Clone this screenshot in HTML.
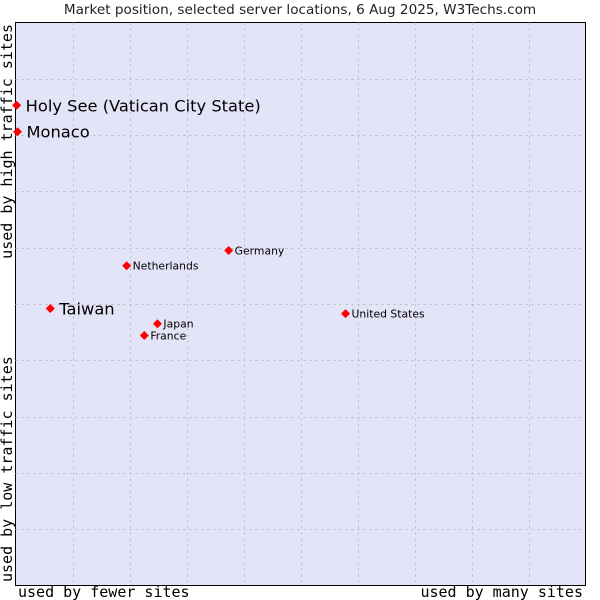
<!DOCTYPE html>
<html><head><meta charset="utf-8"><style>
html,body{margin:0;padding:0;background:#fff;width:600px;height:600px;overflow:hidden}
svg{display:block}
</style></head><body>
<svg id="chart" width="600" height="600" xmlns="http://www.w3.org/2000/svg">
<text x="300" y="14" text-anchor="middle" font-family="DejaVu Sans, sans-serif" font-size="13.6" fill="#222">Market position, selected server locations, 6 Aug 2025, W3Techs.com</text>
<rect x="15.5" y="22.5" width="570" height="563" fill="#e4e4f8" stroke="#000" stroke-width="1"/>
<g id="grid"></g>
<g id="points"></g>
<text x="18" y="597" font-family="DejaVu Sans Mono, monospace" font-size="15" fill="#000">used by fewer sites</text>
<text x="583" y="597" text-anchor="end" font-family="DejaVu Sans Mono, monospace" font-size="15" fill="#000">used by many sites</text>
<text transform="translate(12,582) rotate(-90)" font-family="DejaVu Sans Mono, monospace" font-size="15" fill="#000">used by low traffic sites</text>
<text transform="translate(12,24) rotate(-90)" text-anchor="end" font-family="DejaVu Sans Mono, monospace" font-size="15" fill="#000">used by high traffic sites</text>
</svg>
<script>
const countries = ["Holy See (Vatican City State)","Monaco","Taiwan","Netherlands","Germany","Japan","France","United States"];
const xValues = [0.2,0.35,6.1,19.5,37.4,24.9,22.6,57.9];
const yValues = [85.3,80.6,49.2,56.8,59.5,46.5,44.4,48.3];
const highlighted = [true,true,true,false,false,false,false,false];
const gridSteps = [10,20,30,40,50,60,70,80,90];
const NS="http://www.w3.org/2000/svg";
const L=15.5,T=22.5,W=570,H=563;
function sx(v){return L+v/100*W;}
function sy(v){return T+H-v/100*H;}
const grid=document.getElementById('grid');
gridSteps.forEach(g=>{
  const v=document.createElementNS(NS,'line');
  const x=Math.round(sx(g))+0.5;
  v.setAttribute('x1',x);v.setAttribute('x2',x);v.setAttribute('y1',T);v.setAttribute('y2',T+H);
  v.setAttribute('stroke','#bbb');v.setAttribute('stroke-dasharray','2,4');
  
  
  grid.appendChild(v);
  const h=document.createElementNS(NS,'line');
  const y=Math.round(sy(g))+0.5;
  h.setAttribute('y1',y);h.setAttribute('y2',y);h.setAttribute('x1',L);h.setAttribute('x2',L+W);
  h.setAttribute('stroke','#bbb');h.setAttribute('stroke-dasharray','2,4');
  
  
  grid.appendChild(h);
});
const pts=document.getElementById('points');
countries.forEach((c,i)=>{
  const x=sx(xValues[i]),y=sy(yValues[i]);
  const d=document.createElementNS(NS,'path');
  d.setAttribute('d',`M${x-4.5},${y}L${x},${y-4.5}L${x+4.5},${y}L${x},${y+4.5}Z`);
  d.setAttribute('fill','#f00');
  
  
  pts.appendChild(d);
  const t=document.createElementNS(NS,'text');
  const big=highlighted[i];
  t.setAttribute('x',x+(big?9:6));t.setAttribute('y',y+(big?6:4));
  t.setAttribute('font-family','DejaVu Sans, sans-serif');
  t.setAttribute('font-size',big?16.3:10.8);
  t.setAttribute('fill','#000');
  t.textContent=c;
  
  
  pts.appendChild(t);
});
</script>
</body></html>
